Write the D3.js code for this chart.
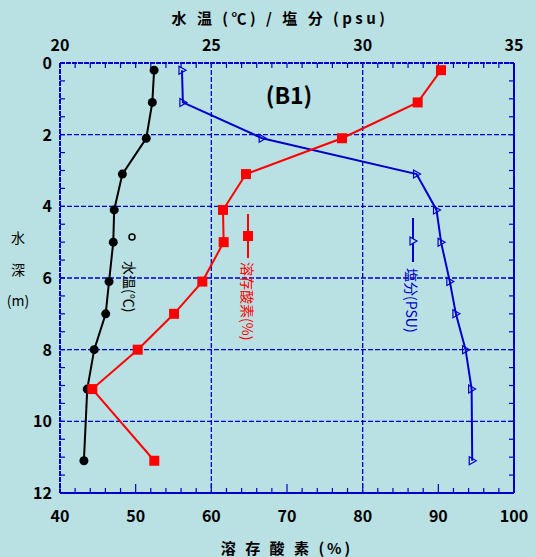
<!DOCTYPE html>
<html>
<head>
<meta charset="utf-8">
<script src="https://cdn.jsdelivr.net/npm/d3@7"></script>
<style>
  body { margin: 0; background: #b9e0e2; }
  text { font-family: "Noto Sans CJK JP", "DejaVu Sans", sans-serif; }
</style>
</head>
<body>
<div id="canvas"></div>
<script>
// depth (m) of each sample
var depth = [0.2, 1.1, 2.1, 3.1, 4.1, 5.0, 6.1, 7.0, 8.0, 9.1, 11.1];
var temp = [23.11, 23.05, 22.85, 22.06, 21.79, 21.76, 21.62, 21.51, 21.13, 20.90, 20.79];
var salt = [24.03, 24.06, 26.68, 31.78, 32.44, 32.59, 32.88, 33.08, 33.40, 33.60, 33.62];
var oxygen = [90.35, 87.27, 77.27, 64.58, 61.54, 61.63, 58.81, 55.07, 50.27, 44.27, 52.46];

var topTicks = [20, 25, 30, 35];
var bottomTicks = [40, 50, 60, 70, 80, 90, 100];
var depthTicks = [0, 2, 4, 6, 8, 10, 12];

(function(){
    var W = 535, H = 557;
    var left = 60, right = 514, top = 63, bottom = 493;
    var blue = "#0000cc";

    var svg = d3.select("#canvas").append("svg").attr("width", W).attr("height", H);
    svg.append("rect").attr("width", W).attr("height", H).attr("fill", "#b9e0e2");

    var xTop = d3.scaleLinear().domain([20, 35]).range([left, right]);
    var xBot = d3.scaleLinear().domain([40, 100]).range([left, right]);
    var y = d3.scaleLinear().domain([0, 12]).range([top, bottom]);

    // grid
    var grid = svg.append("g").attr("stroke", blue).attr("stroke-width", 1.3).attr("stroke-dasharray", "5,2");
    [2, 4, 6, 8, 10].forEach(function(d){
        grid.append("line").attr("x1", left).attr("x2", right).attr("y1", y(d)).attr("y2", y(d));
    });
    [60, 80].forEach(function(d){
        grid.append("line").attr("x1", xBot(d)).attr("x2", xBot(d)).attr("y1", top).attr("y2", bottom);
    });

    // inward ticks
    var ticks = svg.append("g").attr("stroke", blue).attr("stroke-width", 1.2);
    d3.range(40, 100.01, 2).forEach(function(d){
        var len = (d % 10 === 0) ? 9 : 5;
        ticks.append("line").attr("x1", xBot(d)).attr("x2", xBot(d)).attr("y1", bottom).attr("y2", bottom - len);
        ticks.append("line").attr("x1", xBot(d)).attr("x2", xBot(d)).attr("y1", top).attr("y2", top + 5);
    });
    d3.range(0, 12.01, 0.5).forEach(function(d){
        ticks.append("line").attr("x1", left).attr("x2", left + 5).attr("y1", y(d)).attr("y2", y(d));
        ticks.append("line").attr("x1", right).attr("x2", right - 5).attr("y1", y(d)).attr("y2", y(d));
    });

    // frame
    var frame = svg.append("g").attr("stroke", blue).attr("stroke-width", 2);
    frame.append("line").attr("x1", left).attr("x2", right).attr("y1", top).attr("y2", top).attr("stroke-dasharray", "5,1");
    frame.append("line").attr("x1", left).attr("x2", left).attr("y1", top).attr("y2", bottom).attr("stroke-dasharray", "5,1");
    frame.append("line").attr("x1", left).attr("x2", right).attr("y1", bottom).attr("y2", bottom);
    frame.append("line").attr("x1", right).attr("x2", right).attr("y1", top).attr("y2", bottom);

    // tick labels
    var lab = svg.append("g").attr("font-size", 16).attr("font-weight", "bold").attr("fill", "#000");
    topTicks.forEach(function(d){
        lab.append("text").attr("x", xTop(d)).attr("y", 51).attr("text-anchor", "middle").text(d);
    });
    bottomTicks.forEach(function(d){
        lab.append("text").attr("x", xBot(d)).attr("y", 522).attr("text-anchor", "middle").text(d);
    });
    depthTicks.forEach(function(d){
        lab.append("text").attr("x", 52).attr("y", y(d) + 6).attr("text-anchor", "end").text(d);
    });

    // axis titles
    svg.append("text").attr("x", 280).attr("y", 24).attr("text-anchor", "middle")
        .attr("font-size", 15).attr("font-weight", "bold").attr("letter-spacing", 3.5)
        .style("white-space", "pre")
        .text("水 温 (℃) / 塩 分 (psu)");
    svg.append("text").attr("x", 287).attr("y", 554).attr("text-anchor", "middle")
        .attr("font-size", 15).attr("font-weight", "bold").attr("letter-spacing", 3)
        .style("white-space", "pre")
        .text("溶 存 酸 素 (%)");
    [["水", 243], ["深", 275], ["(m)", 306]].forEach(function(t){
        svg.append("text").attr("x", 18).attr("y", t[1]).attr("text-anchor", "middle")
            .attr("font-size", 14).text(t[0]);
    });
    svg.append("text").attr("x", 289).attr("y", 104).attr("text-anchor", "middle")
        .attr("font-size", 23).attr("font-weight", "bold").text("(B1)");

    // series
    function series(xs, xv, color){
        var pts = depth.map(function(d, i){ return [xs(xv[i]), y(d)]; });
        svg.append("path").attr("d", d3.line()(pts)).attr("fill", "none")
            .attr("stroke", color).attr("stroke-width", 2);
        return pts;
    }

    var tp = series(xTop, temp, "#000");
    svg.selectAll(".tc").data(tp).enter().append("circle")
        .attr("cx", function(p){ return p[0]; }).attr("cy", function(p){ return p[1]; })
        .attr("r", 4.5).attr("fill", "#000");

    var sp = series(xTop, salt, blue);
    svg.selectAll(".st").data(sp).enter().append("path")
        .attr("d", function(p){ return "M" + (p[0] - 3) + "," + (p[1] - 4) + "L" + (p[0] + 4) + "," + p[1] + "L" + (p[0] - 3) + "," + (p[1] + 4) + "Z"; })
        .attr("fill", "none").attr("stroke", blue).attr("stroke-width", 1.2);

    var op = series(xBot, oxygen, "#ff0000");
    svg.selectAll(".os").data(op).enter().append("rect")
        .attr("x", function(p){ return p[0] - 5; }).attr("y", function(p){ return p[1] - 5; })
        .attr("width", 10).attr("height", 10).attr("fill", "#ff0000");

    // in-plot legends
    svg.append("circle").attr("cx", 132).attr("cy", 237).attr("r", 3).attr("fill", "none")
        .attr("stroke", "#000").attr("stroke-width", 1.5);
    svg.append("text").attr("transform", "translate(130,261) rotate(90)")
        .attr("dominant-baseline", "central").attr("font-size", 14).attr("fill", "#000").text("水温(℃)");

    svg.append("line").attr("x1", 248).attr("x2", 248).attr("y1", 214).attr("y2", 258)
        .attr("stroke", "#ff0000").attr("stroke-width", 2);
    svg.append("rect").attr("x", 243).attr("y", 231).attr("width", 10).attr("height", 10).attr("fill", "#ff0000");
    svg.append("text").attr("transform", "translate(248,262) rotate(90)")
        .attr("dominant-baseline", "central").attr("font-size", 14).attr("fill", "#ff0000").text("溶存酸素(%)");

    svg.append("line").attr("x1", 413).attr("x2", 413).attr("y1", 218).attr("y2", 262)
        .attr("stroke", blue).attr("stroke-width", 2);
    svg.append("path").attr("d", "M410,237L417,241L410,245Z").attr("fill", "#b9e0e2")
        .attr("stroke", blue).attr("stroke-width", 1.2);
    svg.append("text").attr("transform", "translate(412,268) rotate(90)")
        .attr("dominant-baseline", "central").attr("font-size", 14).attr("fill", blue).text("塩分(PSU)");
})();
</script>
</body>
</html>
